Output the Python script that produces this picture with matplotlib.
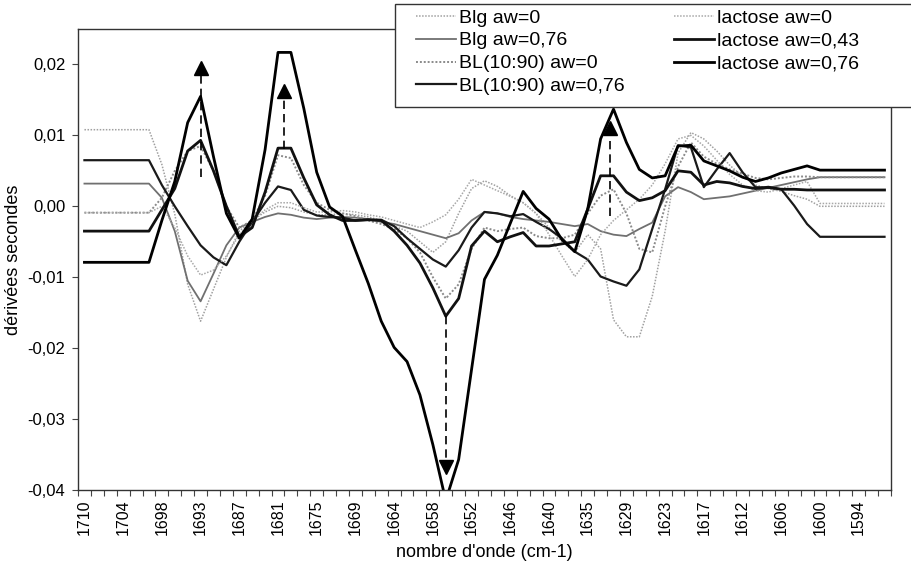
import matplotlib
matplotlib.use('Agg')
import matplotlib.pyplot as plt
from matplotlib.patches import Rectangle
import numpy as np

plt.rcParams['font.family'] = ['Liberation Sans', 'DejaVu Sans']

# wavenumber labels (every 3rd point), 63 points from 1710 down
tick_labels = ['1710', '1704', '1698', '1693', '1687', '1681', '1675', '1669', '1664',
               '1658', '1652', '1646', '1640', '1635', '1629', '1623', '1617', '1612',
               '1606', '1600', '1594']

blg_0 = [0.0108] * 6 + [0.0059, -0.0011, -0.0110, -0.0162, -0.0117, -0.0072, -0.0035, -0.0020,
        -0.0008, 0.0000, -0.0002, -0.0008, -0.0012, -0.0012, -0.0010, -0.0012, -0.0015, -0.0020,
        -0.0028, -0.0035, -0.0050, -0.0065, -0.0050, -0.0010, 0.0025, 0.0036, 0.0028, 0.0015,
        0.0005, -0.0010, -0.0030, -0.0050, -0.0065, -0.0040, -0.0060, -0.0160, -0.0184, -0.0184,
        -0.0127, -0.0035, 0.0075, 0.0104, 0.0095, 0.0078, 0.0058, 0.0042, 0.0030, 0.0025, 0.0021,
        0.0015, 0.0010] + [0.0000] * 6

blg_76 = [0.0032] * 6 + [0.0012, -0.0035, -0.0105, -0.0134, -0.0095, -0.0055, -0.0030, -0.0022,
         -0.0015, -0.0010, -0.0012, -0.0016, -0.0018, -0.0016, -0.0015, -0.0016, -0.0018, -0.0022,
         -0.0025, -0.0030, -0.0035, -0.0040, -0.0045, -0.0038, -0.0020, -0.0008, -0.0010, -0.0015,
         -0.0018, -0.0020, -0.0022, -0.0025, -0.0028, -0.0025, -0.0035, -0.0040, -0.0042, -0.0032,
         -0.0023, 0.0014, 0.0027, 0.0020, 0.0010, 0.0012, 0.0014, 0.0018, 0.0022, 0.0026, 0.0030,
         0.0034, 0.0038] + [0.0041] * 6

bl_0 = [-0.0009] * 6 + [0.0012, 0.0050, 0.0078, 0.0085, 0.0050, 0.0000, -0.0030, -0.0020,
       0.0015, 0.0072, 0.0068, 0.0030, 0.0005, -0.0005, -0.0010, -0.0014, -0.0020, -0.0025,
       -0.0032, -0.0045, -0.0065, -0.0100, -0.0130, -0.0110, -0.0060, -0.0030, -0.0035, -0.0032,
       -0.0030, -0.0042, -0.0045, -0.0045, -0.0040, -0.0010, 0.0015, 0.0024, -0.0010, -0.0060,
       -0.0065, 0.0000, 0.0056, 0.0090, 0.0070, 0.0060, 0.0052, 0.0046, 0.0040, 0.0038, 0.0040,
       0.0042, 0.0042] + [0.0041] * 6

bl_76 = [0.0065] * 6 + [0.0030, 0.0000, -0.0028, -0.0055, -0.0072, -0.0083, -0.0050, -0.0022,
        0.0005, 0.0028, 0.0023, -0.0005, -0.0013, -0.0015, -0.0016, -0.0020, -0.0019, -0.0019,
        -0.0028, -0.0045, -0.0060, -0.0075, -0.0085, -0.0062, -0.0030, -0.0008, -0.0010, -0.0014,
        -0.0011, -0.0022, -0.0032, -0.0045, -0.0064, -0.0075, -0.0099, -0.0106, -0.0112, -0.0089,
        -0.0032, 0.0024, 0.0086, 0.0083, 0.0027, 0.0052, 0.0075, 0.0048, 0.0027, 0.0026, 0.0024,
        0.0001, -0.0025] + [-0.0043] * 6

lac_0 = [-0.0009] * 6 + [0.0000, -0.0030, -0.0070, -0.0097, -0.0090, -0.0070, -0.0040, -0.0020,
        -0.0005, 0.0005, 0.0005, -0.0002, -0.0008, -0.0008, -0.0006, -0.0008, -0.0012, -0.0015,
        -0.0020, -0.0025, -0.0030, -0.0022, -0.0012, 0.0010, 0.0038, 0.0030, 0.0022, 0.0014,
        0.0005, -0.0010, -0.0040, -0.0070, -0.0099, -0.0075, -0.0040, -0.0020, -0.0005, 0.0010,
        0.0030, 0.0060, 0.0095, 0.0100, 0.0085, 0.0065, 0.0045, 0.0030, 0.0022, 0.0020, 0.0025,
        0.0030, 0.0035] + [0.0004] * 6

lac_43 = [-0.0035] * 6 + [-0.0005, 0.0025, 0.0078, 0.0093, 0.0050, 0.0000, -0.0043, -0.0030,
         0.0020, 0.0082, 0.0082, 0.0040, 0.0002, -0.0012, -0.0020, -0.0020, -0.0019, -0.0020,
         -0.0035, -0.0055, -0.0080, -0.0115, -0.0155, -0.0130, -0.0056, -0.0035, -0.0050, -0.0043,
         -0.0037, -0.0056, -0.0056, -0.0053, -0.0050, -0.0004, 0.0043, 0.0043, 0.0020, 0.0008,
         0.0012, 0.0022, 0.0050, 0.0048, 0.0030, 0.0035, 0.0033, 0.0028, 0.0025, 0.0027, 0.0024,
         0.0024, 0.0023] + [0.0023] * 6

lac_76 = [-0.0079] * 6 + [-0.0020, 0.0035, 0.0118, 0.0155, 0.0070, -0.0010, -0.0045, -0.0018,
         0.0080, 0.0217, 0.0217, 0.0138, 0.0048, -0.0001, -0.0014, -0.0062, -0.0109, -0.0162,
         -0.0199, -0.0219, -0.0266, -0.0336, -0.0415, -0.0357, -0.0230, -0.0103, -0.0069, -0.0024,
         0.0021, -0.0003, -0.0018, -0.0047, -0.0064, -0.0004, 0.0095, 0.0137, 0.0090, 0.0052,
         0.0040, 0.0043, 0.0085, 0.0086, 0.0064, 0.0057, 0.0050, 0.0041, 0.0035, 0.0040, 0.0047,
         0.0052, 0.0057] + [0.0051] * 6

# dashed arrows: x position (point index), start value, tip value
arrow_x = [9, 15.5, 28, 40.75]
arrow_from = [0.0042, 0.0081, -0.0155, -0.0014]
arrow_to = [0.0195, 0.0163, -0.0368, 0.0111]

fig = plt.figure(figsize=(9.11, 5.72), dpi=100)
ax = fig.add_axes([0.0856, 0.1434, 0.8924, 0.8059])

x = np.arange(len(lac_76))
series = [
    (blg_0, 'Blg aw=0', dict(color='#a0a0a0', lw=1.1, ls=(0, (1, 1)))),
    (blg_76, 'Blg aw=0,76', dict(color='#707070', lw=1.3, ls='-')),
    (bl_0, 'BL(10:90) aw=0', dict(color='#8a8a8a', lw=1.4, ls=(0, (1, 1)))),
    (bl_76, 'BL(10:90) aw=0,76', dict(color='#1a1a1a', lw=1.6, ls='-')),
    (lac_0, 'lactose aw=0', dict(color='#a8a8a8', lw=1.1, ls=(0, (1, 1)))),
    (lac_43, 'lactose aw=0,43', dict(color='#111111', lw=2.0, ls='-')),
    (lac_76, 'lactose aw=0,76', dict(color='#000000', lw=2.0, ls='-')),
]
for vals, name, st in series:
    ax.plot(x, vals, label=name, **st)

for xa, y0, y1 in zip(arrow_x, arrow_from, arrow_to):
    ax.plot([xa, xa], [y0, y1], color='black', lw=1.2, ls=(0, (5, 3)))
    ax.plot(xa, y1, marker='^' if y1 > y0 else 'v', color='black', ms=10, ls='none')

ax.set_xlim(-0.5, len(x) - 0.5)
ax.set_ylim(-0.04, 0.025)
ax.set_yticks([0.02, 0.01, 0.0, -0.01, -0.02, -0.03, -0.04])
ax.set_yticklabels(['0,02', '0,01', '0,00', '-0,01', '-0,02', '-0,03', '-0,04'], fontsize=12)

ax.set_xticks(np.arange(-0.5, len(x), 1))
ax.set_xticklabels([])
ax.set_xticks(np.arange(0, 61, 3), minor=True)
ax.set_xticklabels(tick_labels, minor=True, rotation=90, fontsize=11.5)
ax.tick_params(axis='x', which='major', length=4, width=0.8, color='#444')
ax.tick_params(axis='x', which='minor', length=0, pad=7)
ax.tick_params(axis='y', length=4, width=0.8, color='#444', pad=5)

for s in ax.spines.values():
    s.set_color('#333')
    s.set_linewidth(1.0)

ax.set_xlabel("nombre d'onde (cm-1)", fontsize=13, labelpad=6)
ax.set_ylabel('dérivées secondes', fontsize=13, labelpad=4)

# legend box (extends past the right edge as in the original)
fig.patches.append(Rectangle((395 / 911, 1 - 107 / 572), 0.6, 103 / 572,
                             transform=fig.transFigure, facecolor='white',
                             edgecolor='#333', lw=1.0, zorder=3))
leg = fig.legend(loc='upper left', bbox_to_anchor=(416 / 911, 1 - 9 / 572), ncol=2,
                 fontsize=14, frameon=False, borderpad=0, borderaxespad=0,
                 handlelength=2.05, handletextpad=0.15, columnspacing=2.55,
                 labelspacing=0.27)
leg.set_zorder(4)

fig.savefig('out.png', dpi=100)
